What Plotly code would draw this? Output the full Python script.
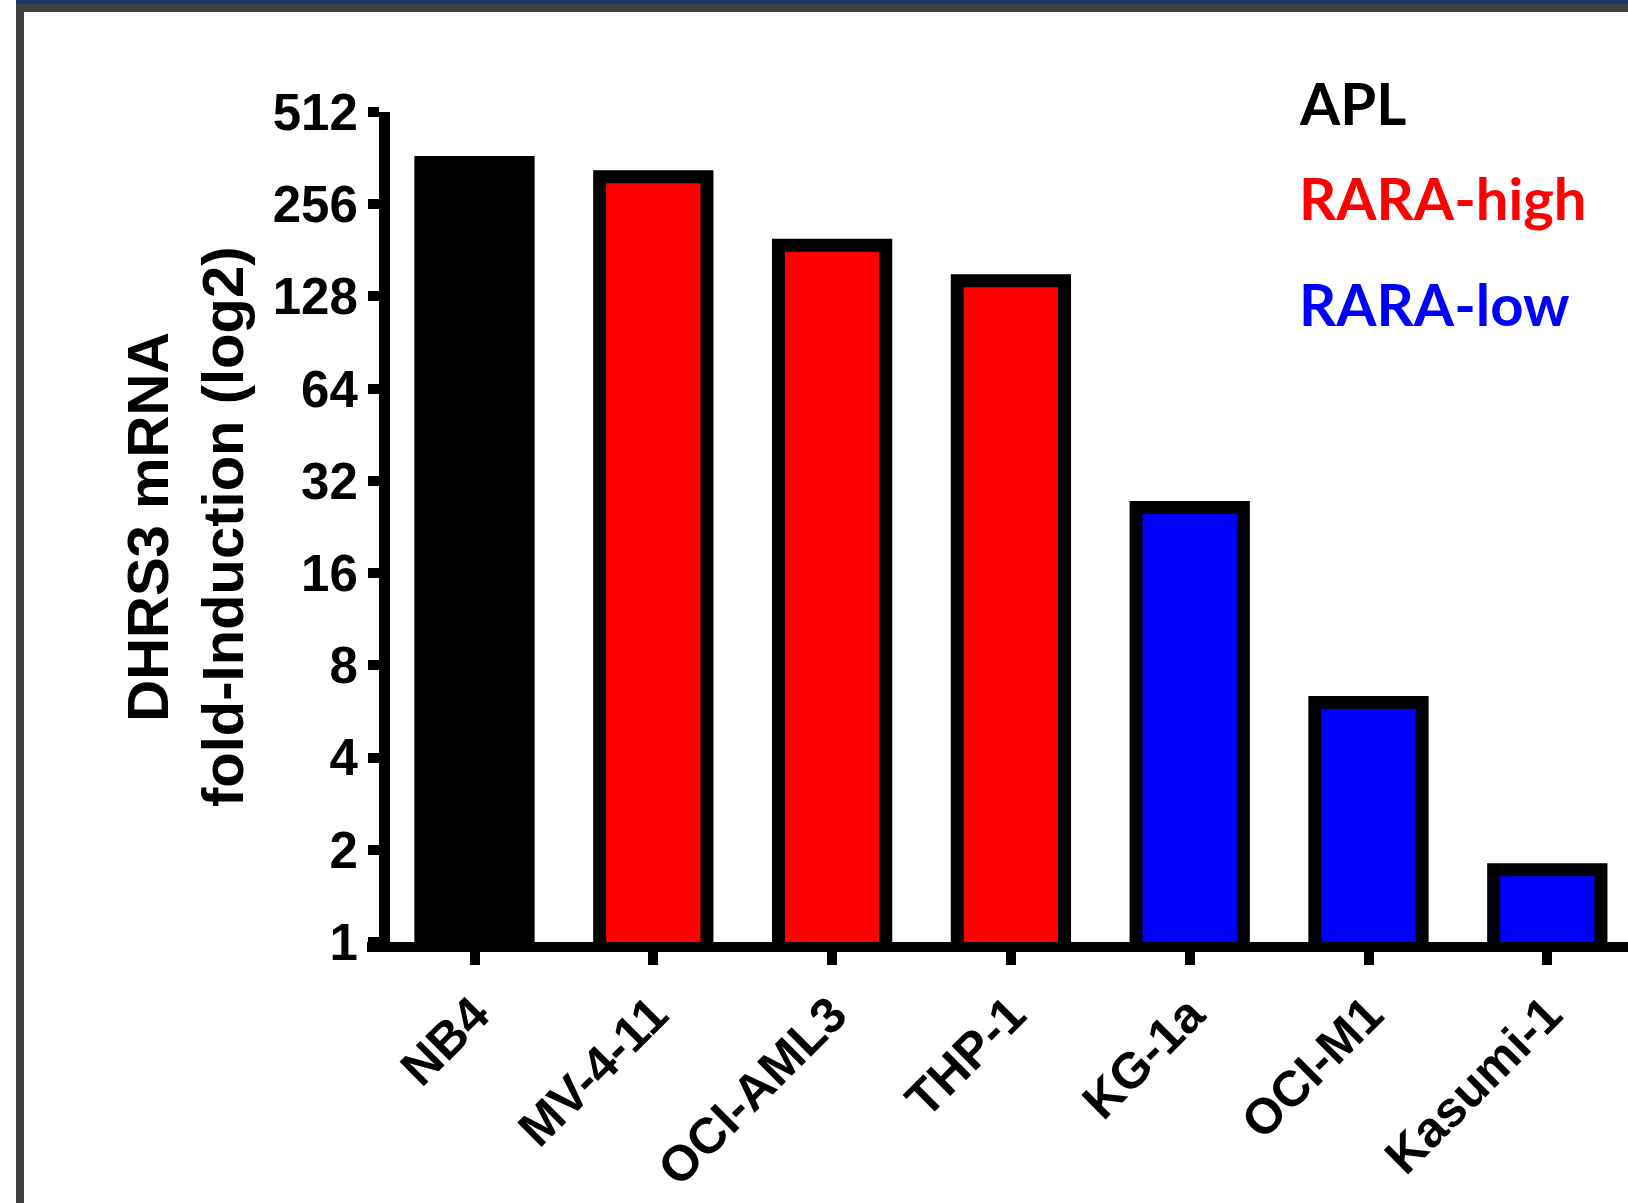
import math
import plotly.graph_objects as go

# ---- data ----
cell_lines = ["NB4", "MV-4-11", "OCI-AML3", "THP-1", "KG-1a", "OCI-M1", "Kasumi-1"]
fold_induction = [350, 315, 188, 144, 26.2, 6.05, 1.72]
groups = ["APL", "RARA-high", "RARA-high", "RARA-high", "RARA-low", "RARA-low", "RARA-low"]
group_names = ["APL", "RARA-high", "RARA-low"]
group_colors = {"APL": "#000000", "RARA-high": "#FF0000", "RARA-low": "#0000FF"}
y_tick_values = [1, 2, 4, 8, 16, 32, 64, 128, 256, 512]
y_tick_labels = ["1", "2", "4", "8", "16", "32", "64", "128", "256", "512"]
y_title = "DHRS3 mRNA<br>fold-Induction (log2)"

# ---- layout geometry (pixels) ----
W, H = 1628, 1203
L, R, T, B = 390, 1628, 112, 942


def px_x(p):
    return (p - L) / (R - L)


def px_y(p):
    return (B - p) / (B - T)


FONT = "Arial, Liberation Sans, sans-serif"

fig = go.Figure()
fig.add_trace(
    go.Bar(
        x=list(range(len(cell_lines))),
        y=fold_induction,
        width=0.6,
        marker=dict(
            color=[group_colors[g] for g in groups],
            line=dict(color="#000000", width=13),
        ),
        showlegend=False,
        hoverinfo="skip",
    )
)

shapes = [
    # screenshot frame
    dict(type="rect", xref="paper", yref="paper", x0=px_x(16), x1=px_x(W + 5),
         y0=px_y(4), y1=px_y(-5), fillcolor="#1c3468", line=dict(width=0), layer="above"),
    dict(type="rect", xref="paper", yref="paper", x0=px_x(16), x1=px_x(W + 5),
         y0=px_y(12), y1=px_y(4), fillcolor="#404040", line=dict(width=0), layer="above"),
    dict(type="rect", xref="paper", yref="paper", x0=px_x(16), x1=px_x(24),
         y0=px_y(H + 5), y1=px_y(4), fillcolor="#404040", line=dict(width=0), layer="above"),
    # x axis stub left of the y axis
    dict(type="line", xref="paper", yref="paper", x0=px_x(367), x1=px_x(392),
         y0=px_y(B + 5), y1=px_y(B + 5), line=dict(color="#000000", width=10), layer="above"),
]

annotations = [
    dict(text=y_title, xref="paper", yref="paper", x=px_x(185), y=px_y(527),
         xanchor="center", yanchor="middle", textangle=-90, showarrow=False,
         font=dict(family=FONT, size=58, color="#000000", weight="bold")),
]
legend_y = [102, 197, 303]
for name, yy in zip(group_names, legend_y):
    annotations.append(
        dict(text=name, xref="paper", yref="paper", x=px_x(1297), y=px_y(yy),
             xanchor="left", yanchor="middle", showarrow=False,
             font=dict(family="Lato, sans-serif", size=58, color=group_colors[name], weight="bold"))
    )

fig.update_layout(
    width=W,
    height=H,
    margin=dict(l=L, r=W - R, t=T, b=H - B, pad=0),
    paper_bgcolor="#FFFFFF",
    plot_bgcolor="#FFFFFF",
    bargap=0.4,
    shapes=shapes,
    annotations=annotations,
    xaxis=dict(
        range=[(L - 474.5) / 178.8, (R - 474.5) / 178.8],
        tickmode="array",
        tickvals=list(range(len(cell_lines))),
        ticktext=cell_lines,
        tickangle=-45,
        ticks="outside",
        ticklen=13,
        tickwidth=10,
        tickcolor="#000000",
        showline=True,
        linewidth=10,
        linecolor="#000000",
        showgrid=False,
        zeroline=False,
        tickfont=dict(family=FONT, size=50, color="#000000", weight="bold"),
    ),
    yaxis=dict(
        type="log",
        range=[0, math.log10(512)],
        tickmode="array",
        tickvals=y_tick_values,
        ticktext=y_tick_labels,
        ticks="outside",
        ticklen=11,
        tickwidth=10,
        tickcolor="#000000",
        showline=True,
        linewidth=11,
        linecolor="#000000",
        showgrid=False,
        zeroline=False,
        tickfont=dict(family=FONT, size=51, color="#000000", weight="bold"),
    ),
)

fig.write_html(
    "out.html",
    config={"displayModeBar": False},
    post_script="document.body.style.margin='0';document.body.style.overflow='hidden';",
)
